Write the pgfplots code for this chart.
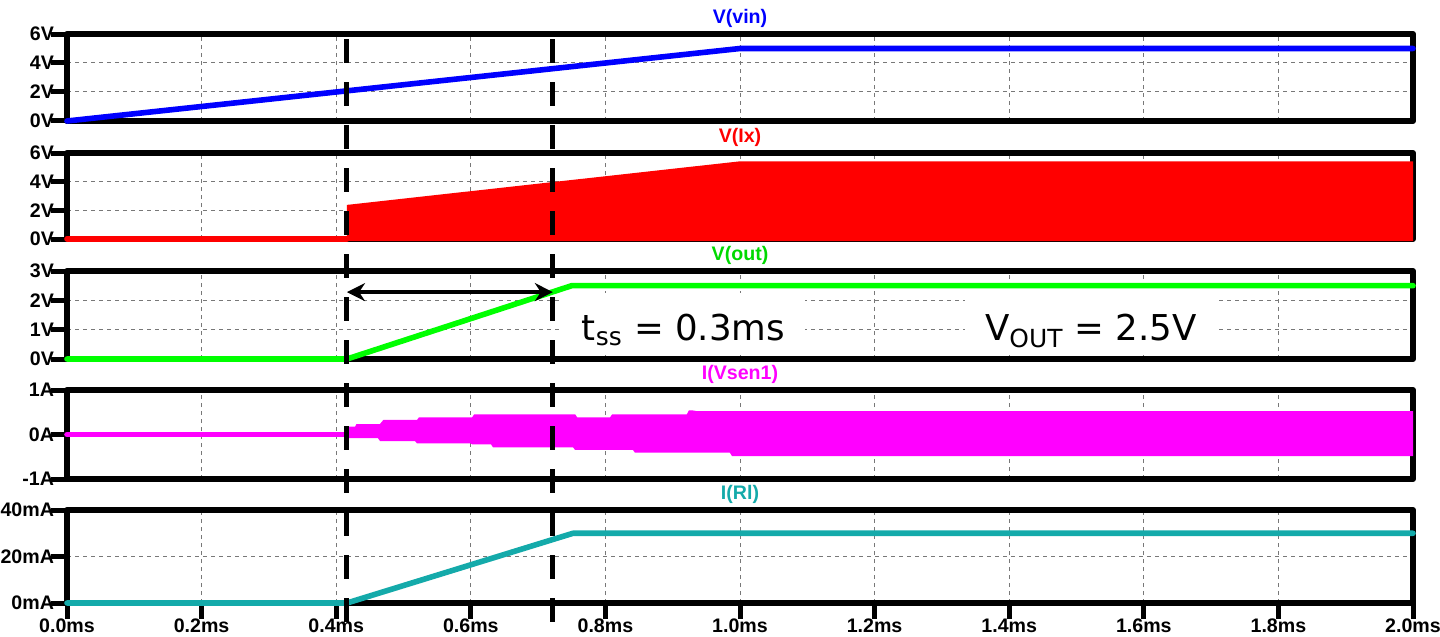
\documentclass[border=0pt]{standalone}
\usepackage{pgfplots}
\pgfplotsset{compat=1.18}
\usepackage{fontspec}
\setmainfont{Liberation Sans}
\newfontfamily\annfont{DejaVu Sans}
\usetikzlibrary{arrows.meta}
\definecolor{cblue}{RGB}{0,0,255}
\definecolor{cred}{RGB}{255,0,0}
\definecolor{cgreen}{RGB}{0,255,0}
\definecolor{cmag}{RGB}{255,0,255}
\definecolor{cteal}{RGB}{20,170,170}
\definecolor{cgrid}{RGB}{120,120,120}
\pgfplotsset{
  panel/.style={
    scale only axis, width=673pt,
    xmin=0, xmax=2, clip=false,
    xtick={0,0.2,0.4,0.6,0.8,1.0,1.2,1.4,1.6,1.8,2.0},
    grid=major,
    major grid style={cgrid, line width=0.5pt, dash pattern=on 2pt off 2pt},
    axis line style={line width=3pt, line join=round},
    tick align=outside, tick pos=left,
    major tick length=8pt,
    major tick style={line width=2.5pt, black},
    ticklabel style={font=\bfseries\fontsize{9.8}{11}\selectfont},
    yticklabel style={xshift=5pt},
    xticklabel style={yshift=3.5pt},
    title style={font=\bfseries\fontsize{9.8}{11}\selectfont, yshift=-6.5pt},
    every axis plot/.append style={line width=2.8pt, line cap=round, line join=round},
    anchor=north west,
  },
  upper/.style={panel, xticklabels={}, xtick style={draw=none}},
}
\begin{document}
\begin{tikzpicture}
% Panel 1: V(vin)
\begin{axis}[upper, at={(33.5pt,-17pt)}, height=43.5pt,
  ymin=0, ymax=6, ytick={0,2,4,6}, yticklabels={0V,2V,4V,6V},
  title={\color{cblue}V(vin)}]
\addplot[cblue] coordinates {(0,0) (1.0,5.0) (2.0,5.0)};
\coordinate (d1) at (axis cs:0.416,6);
\coordinate (d2) at (axis cs:0.722,6);
\end{axis}
% Panel 2: V(Ix)
\begin{axis}[upper, at={(33.5pt,-76.5pt)}, height=43pt,
  ymin=0, ymax=6, ytick={0,2,4,6}, yticklabels={0V,2V,4V,6V},
  title={\color{cred}V(Ix)}]
\addplot[cred] coordinates {(0,0.02) (0.416,0.02)};
\addplot[fill=cred, draw=none] coordinates {(0.416,-0.15) (0.416,2.38) (1.0,5.42) (2.0,5.42) (2.0,-0.15)};
\end{axis}
% Panel 3: V(out)
\begin{axis}[upper, at={(33.5pt,-135.5pt)}, height=44pt,
  ymin=0, ymax=3, ytick={0,1,2,3}, yticklabels={0V,1V,2V,3V},
  title={\color{cgreen!85!black}V(out)}]
\addplot[cgreen] coordinates {(0,0) (0.416,0) (0.75,2.5) (2.0,2.5)};
\draw[{Stealth[length=9pt,width=9pt]}-{Stealth[length=9pt,width=9pt]}, line width=2pt]
  (axis cs:0.416,2.28) -- (axis cs:0.722,2.28);
\node[fill=white, inner xsep=10pt, inner ysep=0pt, text height=23.8pt, text depth=7pt,
  anchor=base, font=\annfont\fontsize{17.8}{20}\selectfont]
  at (axis cs:0.916,0.624) {t\textsubscript{ss} = 0.3ms};
\node[fill=white, inner xsep=10pt, inner ysep=0pt, text height=25.8pt, text depth=7pt,
  anchor=base, font=\annfont\fontsize{17.8}{20}\selectfont]
  at (axis cs:1.5215,0.624) {V\textsubscript{OUT} = 2.5V};
\end{axis}
% Panel 4: I(Vsen1)
\begin{axis}[upper, at={(33.5pt,-195pt)}, height=44.5pt,
  ymin=-1, ymax=1, ytick={-1,0,1}, yticklabels={-1A,0A,1A},
  title={\color{cmag}I(Vsen1)}]
\addplot[cmag] coordinates {(0,0) (0.416,0)};
\addplot[fill=cmag, draw=none] coordinates {
 (0.416,0.175) (0.428,0.175) (0.430,0.236) (0.465,0.236) (0.470,0.326)
 (0.520,0.326) (0.523,0.387) (0.602,0.387) (0.605,0.454) (0.755,0.454)
 (0.758,0.387) (0.807,0.387) (0.810,0.454) (0.921,0.454) (0.924,0.54)
 (0.930,0.54) (0.935,0.528) (2.0,0.528)
 (2.0,-0.483) (0.988,-0.483) (0.985,-0.409) (0.844,-0.409) (0.841,-0.348)
 (0.755,-0.348) (0.752,-0.288) (0.633,-0.288) (0.630,-0.22) (0.602,-0.22)
 (0.599,-0.198) (0.520,-0.198) (0.517,-0.146) (0.465,-0.146) (0.462,-0.08)
 (0.416,-0.08)};
\end{axis}
% Panel 5: I(Rl)
\begin{axis}[panel, at={(33.5pt,-255pt)}, height=46.5pt,
  ymin=0, ymax=40, ytick={0,20,40}, yticklabels={0mA,20mA,40mA},
  xticklabels={0.0ms,0.2ms,0.4ms,0.6ms,0.8ms,1.0ms,1.2ms,1.4ms,1.6ms,1.8ms,2.0ms},
  title={\color{cteal}I(Rl)}]
\addplot[cteal] coordinates {(0,0) (0.416,0) (0.752,30) (2.0,30)};
\end{axis}
% cursor lines
\draw[line width=2.5pt, dash pattern=on 12pt off 9.5pt] ([yshift=-2.5pt]d1) -- ++(0,-294pt);
\draw[line width=2.5pt, dash pattern=on 12pt off 9.5pt] ([yshift=-2.5pt]d2) -- ++(0,-294pt);
\pgfresetboundingbox
\path[use as bounding box] (0,0) rectangle (720pt,-318.5pt);
\end{tikzpicture}
\end{document}
